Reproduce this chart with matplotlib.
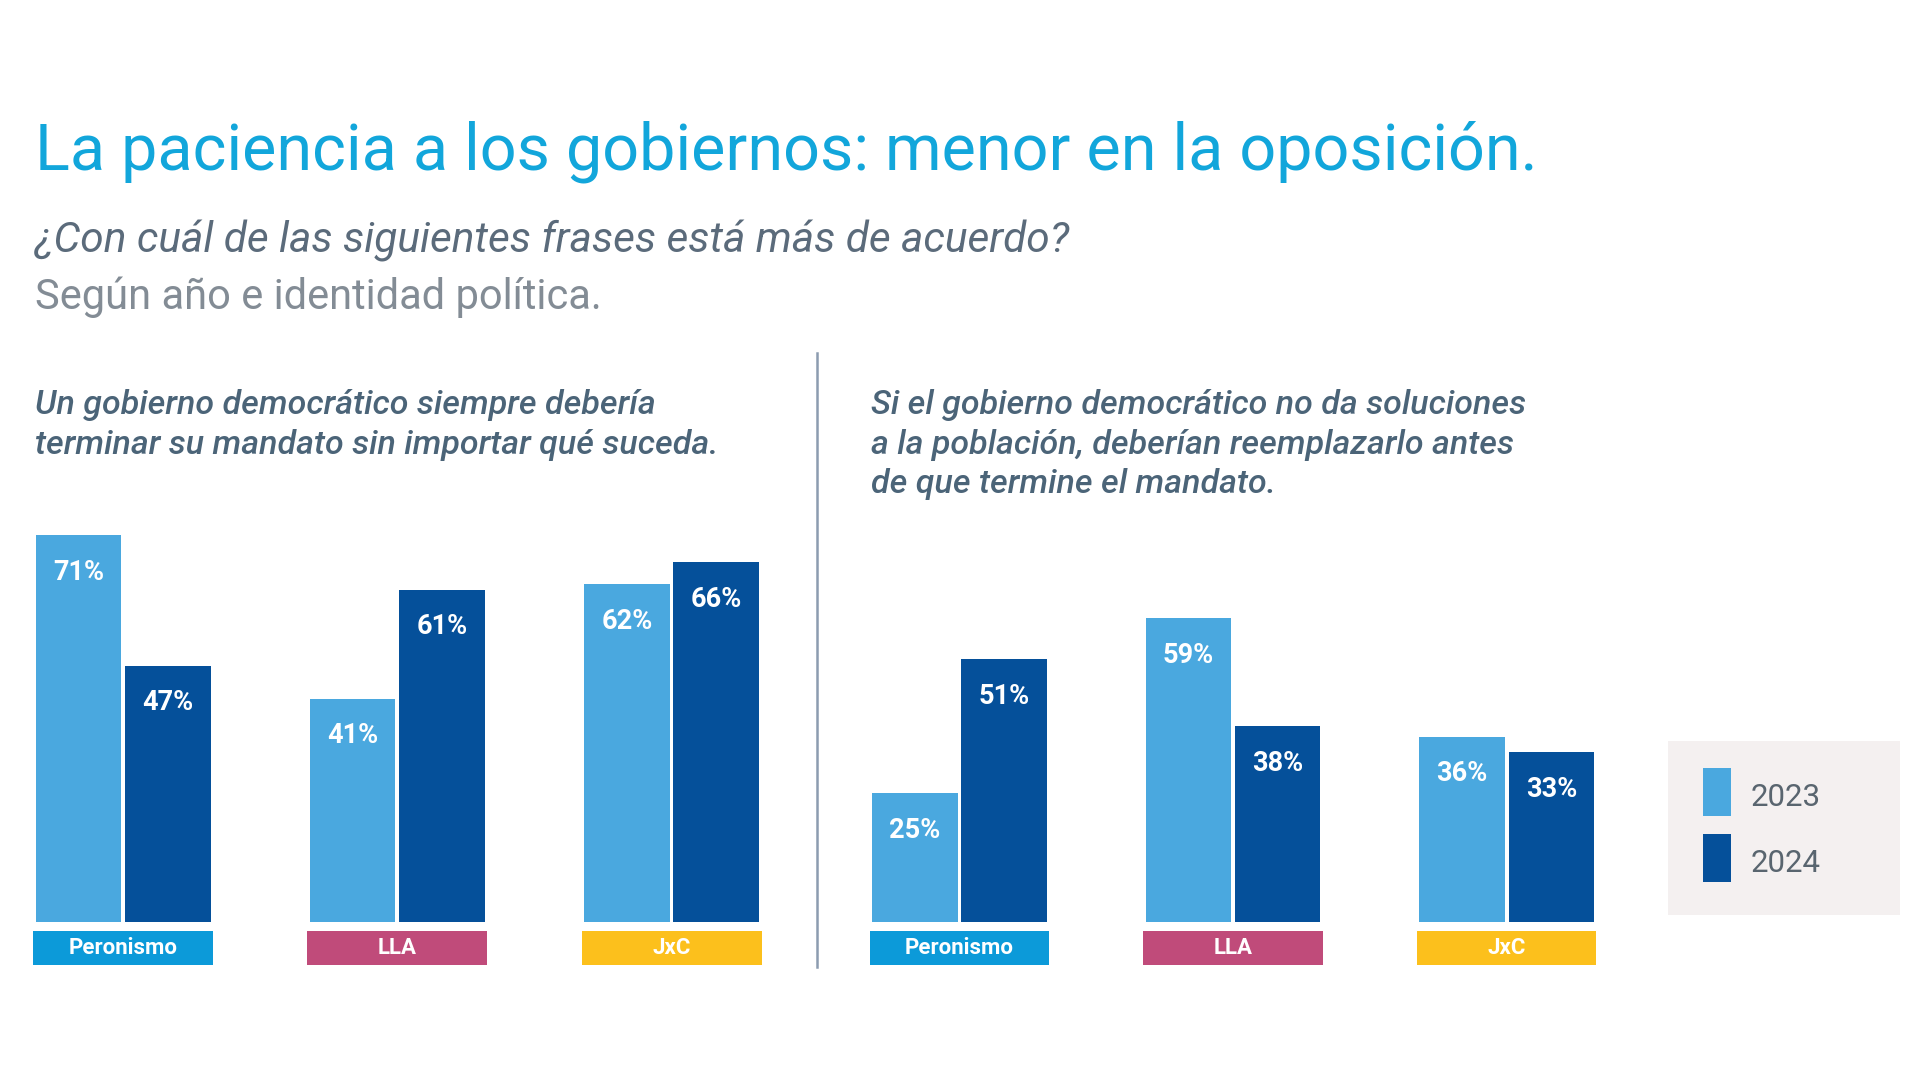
import matplotlib
matplotlib.use("Agg")
import matplotlib.pyplot as plt
from matplotlib.patches import Rectangle

plt.rcParams['font.family'] = ['Roboto', 'DejaVu Sans']

# data
parties = ['Peronismo', 'LLA', 'JxC']
party_colors = ['#0c9ad9', '#c04b7a', '#fcc01c']
years = ['2023', '2024']
year_colors = ['#4aa8df', '#05509a']

terminar_2023 = [71, 41, 62]
terminar_2024 = [47, 61, 66]
reemplazar_2023 = [25, 59, 36]
reemplazar_2024 = [51, 38, 33]

title = 'La paciencia a los gobiernos: menor en la oposición.'
question = '¿Con cuál de las siguientes frases está más de acuerdo?'
note = 'Según año e identidad política.'
head_left = 'Un gobierno democrático siempre debería\nterminar su mandato sin importar qué suceda.'
head_right = ('Si el gobierno democrático no da soluciones\n'
              'a la población, deberían reemplazarlo antes\n'
              'de que termine el mandato.')

W, H = 1920, 1080
fig = plt.figure(figsize=(W / 100, H / 100), dpi=100)
fig.patch.set_facecolor('white')

def fx(px):
    return px / W

def fy(py):
    return 1 - py / H

# header texts
fig.text(fx(35), fy(152), title, fontsize=46.5, color='#12a6db', va='center', ha='left')
fig.text(fx(35), fy(241), question, fontsize=30.5, color='#5b6b7b', style='italic',
         va='center', ha='left')
fig.text(fx(35), fy(297), note, fontsize=30, color='#838c95',
         va='center', ha='left')
fig.text(fx(35), fy(389), head_left, fontsize=24.5, color='#4b6478', style='italic',
         weight='medium', va='top', ha='left', linespacing=1.31)
fig.text(fx(871), fy(389), head_right, fontsize=24.5, color='#4b6478', style='italic',
         weight='medium', va='top', ha='left', linespacing=1.31)

# divider
fig.add_artist(plt.Line2D([fx(817), fx(817)], [fy(353), fy(967)], color='#8c9cb0', lw=1.8))

base_y = 922      # px of bar baseline
top_y = 480
bottom_y = 975
bar_w = 0.3125
off = 0.163


def panel(x0, x1, v23, v24, px_per_pct):
    ax = fig.add_axes([fx(x0), fy(bottom_y), fx(x1 - x0), (bottom_y - top_y) / H])
    ax.set_xlim(-0.4, 2.4)
    ax.set_ylim(-(bottom_y - base_y) / px_per_pct, (base_y - top_y) / px_per_pct)
    ax.axis('off')
    xs = range(len(parties))
    for vals, sign, col in [(v23, -1, year_colors[0]), (v24, 1, year_colors[1])]:
        pos = [x + sign * off for x in xs]
        ax.bar(pos, vals, width=bar_w, color=col, edgecolor='none')
        for p, v in zip(pos, vals):
            ax.text(p, v - 37 / px_per_pct, f'{v}%', ha='center', va='center',
                    color='white', fontsize=19.5, weight='bold')
    # party label boxes
    b0 = -42.9 / px_per_pct
    bh = 34.3 / px_per_pct
    ax.bar(list(xs), [bh] * len(parties), bottom=b0, width=0.656, color=party_colors)
    for x, name in zip(xs, parties):
        ax.text(x, b0 + bh / 2, name, ha='center', va='center', color='white',
                fontsize=16, weight='bold')
    return ax


panel(13.4, 781.3, terminar_2023, terminar_2024, 5.45)
panel(849.9, 1616.2, reemplazar_2023, reemplazar_2024, 5.15)

# legend box
fig.add_artist(Rectangle((fx(1668), fy(915)), fx(1900 - 1668), (915 - 741) / H,
                         facecolor='#f4f0f0', edgecolor='none'))
for i, (yr, col) in enumerate(zip(years, year_colors)):
    cy = 792 + i * 66
    fig.add_artist(Rectangle((fx(1703), fy(cy + 24)), fx(28), 48 / H,
                             facecolor=col, edgecolor='none'))
    fig.text(fx(1751), fy(cy + 6), yr, fontsize=22.5, color='#59656f', va='center', ha='left')

fig.savefig('out.png', dpi=100, facecolor='white')
